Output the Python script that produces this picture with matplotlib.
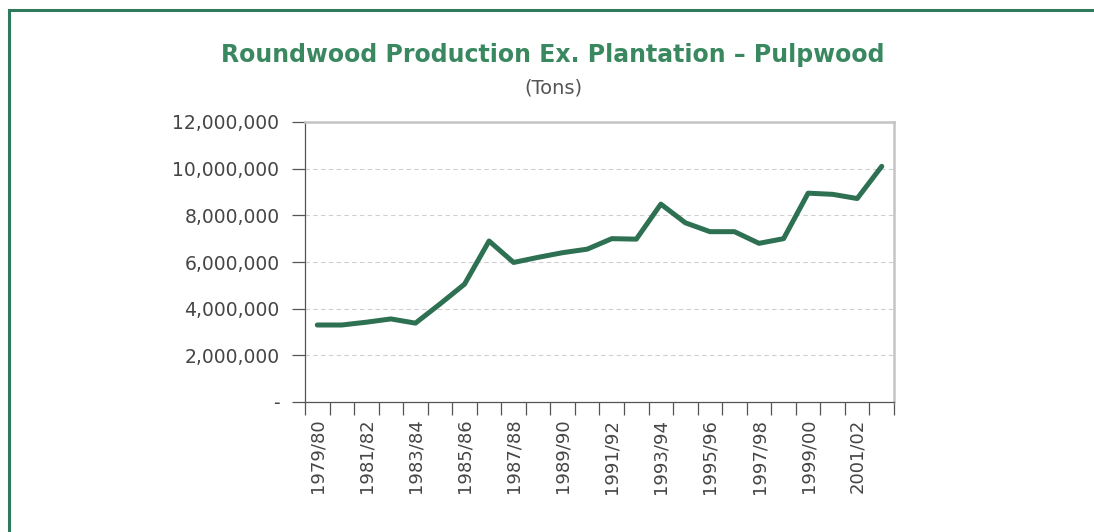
import matplotlib.pyplot as plt
from matplotlib.lines import Line2D
from matplotlib.ticker import FuncFormatter
import numpy as np

# data
seasons = ['1979/80', '1980/81', '1981/82', '1982/83', '1983/84', '1984/85',
           '1985/86', '1986/87', '1987/88', '1988/89', '1989/90', '1990/91',
           '1991/92', '1992/93', '1993/94', '1994/95', '1995/96', '1996/97',
           '1997/98', '1998/99', '1999/00', '2000/01', '2001/02', '2002/03']
tons = [3300000, 3300000, 3420000, 3560000, 3380000, 4200000,
        5050000, 6900000, 5980000, 6200000, 6400000, 6550000,
        7000000, 6980000, 8480000, 7680000, 7300000, 7300000,
        6800000, 7000000, 8950000, 8900000, 8720000, 10100000]
yticks = [0, 2000000, 4000000, 6000000, 8000000, 10000000, 12000000]

green = '#2f7a5c'
textcol = '#454545'

fig = plt.figure(figsize=(10.94, 5.32), dpi=100)
fig.patch.set_facecolor('white')
ax = fig.add_axes([305/1094, 1-402/532, (894-305)/1094, (402-122)/532])

x = np.arange(len(seasons))
ax.plot(x, tons, color='#2e7052', lw=3.6, solid_joinstyle='round', solid_capstyle='round')

ax.set_xlim(-0.5, len(seasons)-0.5)
ax.set_ylim(0, 12000000)

# y axis
ax.set_yticks(yticks)
ax.yaxis.set_major_formatter(FuncFormatter(lambda v, p: '-' if v == 0 else f'{v:,.0f}'))
ax.tick_params(axis='y', direction='out', length=9.4, width=0.9, color='#555555',
               labelsize=13.5, labelcolor=textcol, pad=9)
ax.grid(axis='y', color='#cfcfcf', ls=(0, (4, 3)), lw=0.8)

# x axis: ticks between categories, labels on every second category
ax.set_xticks(np.arange(-0.5, len(seasons)), labels=[])
ax.set_xticks(x[::2], labels=seasons[::2], minor=True)
ax.tick_params(axis='x', which='major', direction='out', length=9.4, width=0.9, color='#555555')
ax.tick_params(axis='x', which='minor', length=0, labelsize=13, labelcolor=textcol,
               rotation=90, pad=12)

for s in ['left', 'bottom']:
    ax.spines[s].set_color('#555555')
    ax.spines[s].set_linewidth(0.9)
for s in ['top', 'right']:
    ax.spines[s].set_color('#c4c4c4')
    ax.spines[s].set_linewidth(1.8)

# titles
fig.text(553/1094, 1-55/532, 'Roundwood Production Ex. Plantation \u2013 Pulpwood',
         ha='center', va='center', fontsize=17, fontweight='bold', color='#3a8860')
fig.text(553/1094, 1-88/532, '(Tons)', ha='center', va='center', fontsize=14,
         color='#555555')

# green frame
fig.add_artist(Line2D([9/1094, 1], [1-10/532, 1-10/532], color=green, lw=2.2,
                      transform=fig.transFigure))
fig.add_artist(Line2D([9/1094, 9/1094], [0, 1-10/532], color=green, lw=2.2,
                      transform=fig.transFigure))

fig.savefig('out.png', dpi=100)
